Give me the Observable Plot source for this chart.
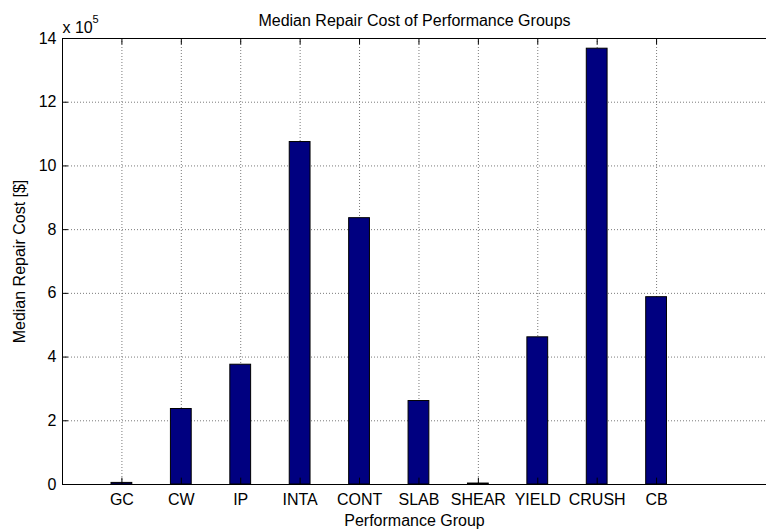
<!DOCTYPE html>
<html><head><meta charset="utf-8">
<script src="https://cdn.jsdelivr.net/npm/d3@7"></script>
<script src="https://cdn.jsdelivr.net/npm/@observablehq/plot@0.6"></script>
<style>body{margin:0;background:#fff} svg{font-family:"Liberation Sans",Arial,sans-serif}</style>
</head><body><div id="chart"></div>
<script>
const categories = ["GC","CW","IP","INTA","CONT","SLAB","SHEAR","YIELD","CRUSH","CB"];
const medianCost = [0.05, 2.37, 3.76, 10.75, 8.36, 2.62, 0.03, 4.62, 13.68, 5.88]; // x 10^5 $
const yTicks = [0, 2, 4, 6, 8, 10, 12, 14];
const positions = categories.map((c, i) => i + 1);
const data = categories.map((c, i) => ({pos: i + 1, cat: c, value: medianCost[i]}));
const barHalf = 0.175;
const font = "'Liberation Sans', Arial, sans-serif";

const plot = Plot.plot({
  width: 766, height: 529,
  marginLeft: 62, marginRight: 0, marginTop: 38, marginBottom: 45,
  style: {fontFamily: font, fontSize: "16px", color: "#000", background: "#fff"},
  x: {type: "linear", domain: [0, 11.85], label: null},
  y: {domain: [0, 14], label: null},
  marks: [
    Plot.gridX(positions, {stroke: "#7a7a7a", strokeOpacity: 1, strokeDasharray: "1,2"}),
    Plot.gridY(yTicks.slice(1, -1), {stroke: "#7a7a7a", strokeOpacity: 1, strokeDasharray: "1,2"}),
    Plot.rectY(data, {x1: d => d.pos - barHalf, x2: d => d.pos + barHalf, y1: 0, y2: "value", fill: "#000080", stroke: "#000", strokeWidth: 1}),
    Plot.ruleY(yTicks, {y: d => d, x1: 0, x2: 0.1, stroke: "#000"}),
    Plot.ruleX(positions, {x: d => d, y1: 14, y2: 13.8, stroke: "#000"}),
    Plot.ruleX(positions, {x: d => d, y1: 0, y2: 0.2, stroke: "#000"}),
    Plot.ruleY([0, 14], {stroke: "#000"}),
    Plot.ruleX([0], {stroke: "#000"}),
    Plot.axisY(yTicks, {tickSize: 0, tickPadding: 6, fontSize: 16, label: "Median Repair Cost [$]", labelAnchor: "center", labelOffset: 49, labelArrow: "none"}),
    Plot.axisX(positions, {tickSize: 0, tickPadding: 9, fontSize: 16, tickFormat: p => categories[p - 1], label: "Performance Group", labelAnchor: "center", labelOffset: 41, labelArrow: "none"}),
    Plot.text(["Median Repair Cost of Performance Groups"], {text: d => d, frameAnchor: "top", dy: -13, lineAnchor: "bottom", fontSize: 16}),
    Plot.text(["x 10"], {text: d => d, frameAnchor: "top-left", textAnchor: "start", dy: -6, lineAnchor: "bottom", fontSize: 16}),
    Plot.text(["5"], {text: d => d, frameAnchor: "top-left", textAnchor: "start", dx: 30, dy: -16, lineAnchor: "bottom", fontSize: 11})
  ]
});
document.getElementById("chart").append(plot);
</script>
</body></html>
